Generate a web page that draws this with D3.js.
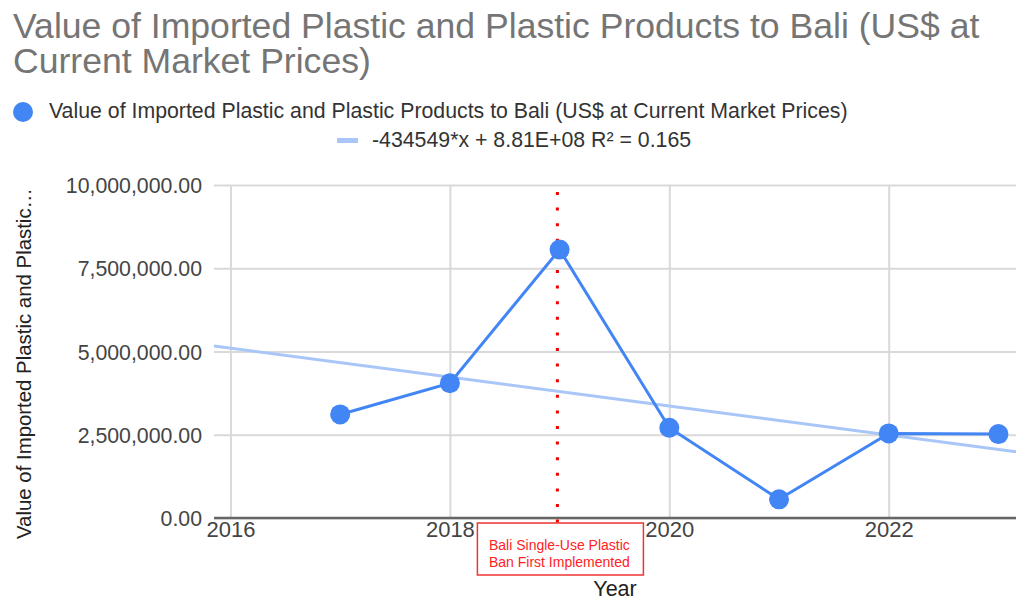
<!DOCTYPE html>
<html>
<head>
<meta charset="utf-8">
<script src="https://cdn.jsdelivr.net/npm/d3@7"></script>
<style>
  body { margin: 0; background: #fff; }
  svg { display: block; font-family: "Liberation Sans", Arial, sans-serif; }
</style>
</head>
<body>
<svg id="chart"></svg>
<script>
// data
var years = [2017, 2018, 2019, 2020, 2021, 2022, 2023]
var values = [3110000, 4050000, 8060000, 2710000, 560000, 2540000, 2520000]
var yTicks = [0, 2500000, 5000000, 7500000, 10000000]
var xTicks = [2016, 2018, 2020, 2022]
var trendSlope = -434549
var trendIntercept = 881150000
var banYear = 2018.98

var titleLines = ["Value of Imported Plastic and Plastic Products to Bali (US$ at", "Current Market Prices)"]
var seriesLabel = "Value of Imported Plastic and Plastic Products to Bali (US$ at Current Market Prices)"
var trendLabel = "-434549*x + 8.81E+08 R\u00b2 = 0.165"
var annotationLines = ["Bali Single-Use Plastic", "Ban First Implemented"]

var dims = {
    width: 1016,
    height: 602,
    margin: { top: 185, bottom: 84, left: 214, right: 0 }
}

var blue = "#4285f4"
var trendBlue = "#a9c6f8"

var svg = d3.select("#chart")
    .attr("width", dims.width)
    .attr("height", dims.height)

var xScale = d3.scaleLinear()
    .domain([2015.85, 2023.16])
    .range([dims.margin.left, dims.width - dims.margin.right])

var yScale = d3.scaleLinear()
    .domain([0, 10000000])
    .range([dims.height - dims.margin.bottom, dims.margin.top])

// title (one text, two lines)
var title = svg.append("text")
    .attr("font-size", 35.6)
    .attr("fill", "#757575")
title.selectAll("tspan")
    .data(titleLines)
    .enter()
    .append("tspan")
    .attr("x", 13)
    .attr("y", (d, i) => 37.5 + i * 35)
    .text(d => d)

// legend
var legend = svg.append("g")
legend.append("circle")
    .attr("cx", 23)
    .attr("cy", 112)
    .attr("r", 10)
    .attr("fill", blue)
legend.append("text")
    .attr("x", 49)
    .attr("y", 118)
    .attr("font-size", 21.3)
    .attr("fill", "#333")
    .text(seriesLabel)
legend.append("rect")
    .attr("x", 337)
    .attr("y", 138)
    .attr("width", 21)
    .attr("height", 5)
    .attr("fill", trendBlue)
legend.append("text")
    .attr("x", 372)
    .attr("y", 147)
    .attr("font-size", 21.3)
    .attr("fill", "#333")
    .text(trendLabel)

// gridlines
var yGrid = d3.axisLeft(yScale)
    .tickValues(yTicks)
    .tickSize(-(dims.width - dims.margin.left - dims.margin.right))
    .tickFormat("")
svg.append("g")
    .attr("transform", `translate(${dims.margin.left},0)`)
    .call(yGrid)
    .call(g => g.select(".domain").remove())
    .call(g => g.selectAll("line").attr("stroke", "#d9d9d9").attr("stroke-width", 2))

var xGrid = d3.axisBottom(xScale)
    .tickValues(xTicks)
    .tickSize(-(yScale(0) - yScale(10000000)))
    .tickFormat("")
svg.append("g")
    .attr("transform", `translate(0,${yScale(0)})`)
    .call(xGrid)
    .call(g => g.select(".domain").remove())
    .call(g => g.selectAll("line").attr("stroke", "#d9d9d9").attr("stroke-width", 2))

// y tick labels
var yAxis = d3.axisLeft(yScale)
    .tickValues(yTicks)
    .tickSize(0)
    .tickPadding(12)
    .tickFormat(d3.format(",.2f"))
svg.append("g")
    .attr("transform", `translate(${dims.margin.left},0)`)
    .call(yAxis)
    .call(g => g.select(".domain").remove())
    .call(g => g.selectAll("text")
        .attr("font-size", 21.3)
        .attr("font-family", "Liberation Sans, Arial, sans-serif")
        .attr("fill", "#444")
        .attr("dy", "0.36em"))

// x tick labels
var xAxis = d3.axisBottom(xScale)
    .tickValues(xTicks)
    .tickSize(0)
    .tickPadding(3)
    .tickFormat(d3.format("d"))
svg.append("g")
    .attr("transform", `translate(0,${yScale(0)})`)
    .call(xAxis)
    .call(g => g.select(".domain").remove())
    .call(g => g.selectAll("text")
        .attr("font-size", 22)
        .attr("font-family", "Liberation Sans, Arial, sans-serif")
        .attr("fill", "#444"))

// baseline
svg.append("line")
    .attr("x1", dims.margin.left)
    .attr("x2", dims.width - dims.margin.right)
    .attr("y1", yScale(0))
    .attr("y2", yScale(0))
    .attr("stroke", "#666")
    .attr("stroke-width", 2.5)

// axis titles
svg.append("text")
    .attr("transform", `translate(31,${(yScale(0) + yScale(10000000)) / 2 + 12}) rotate(-90)`)
    .attr("text-anchor", "middle")
    .attr("font-size", 20.4)
    .attr("fill", "#222")
    .text("Value of Imported Plastic and Plastic\u2026")

svg.append("text")
    .attr("x", 615)
    .attr("y", 596)
    .attr("text-anchor", "middle")
    .attr("font-size", 21.5)
    .attr("fill", "#222")
    .text("Year")

// trendline
var trendLine = d3.line()
    .x(d => xScale(d))
    .y(d => yScale(trendSlope * d + trendIntercept))
svg.append("path")
    .datum(xScale.domain())
    .attr("d", trendLine)
    .attr("fill", "none")
    .attr("stroke", trendBlue)
    .attr("stroke-width", 3)

// ban marker
svg.append("line")
    .attr("x1", xScale(banYear))
    .attr("x2", xScale(banYear))
    .attr("y1", 192)
    .attr("y2", 523)
    .attr("stroke", "#e00")
    .attr("stroke-width", 3)
    .attr("stroke-dasharray", "3,12.6")

// series line and points
var series = years.map((y, i) => [y, values[i]])
var valueLine = d3.line()
    .x(d => xScale(d[0]))
    .y(d => yScale(d[1]))
svg.append("path")
    .datum(series)
    .attr("d", valueLine)
    .attr("fill", "none")
    .attr("stroke", blue)
    .attr("stroke-width", 3)

svg.append("g")
    .selectAll("circle")
    .data(series)
    .enter()
    .append("circle")
    .attr("cx", d => xScale(d[0]))
    .attr("cy", d => yScale(d[1]))
    .attr("r", 10)
    .attr("fill", blue)

// annotation box
var boxX = xScale(banYear)
var note = svg.append("g")
note.append("rect")
    .attr("x", boxX - 80)
    .attr("y", 523)
    .attr("width", 166)
    .attr("height", 52)
    .attr("fill", "#fff")
    .attr("stroke", "#e33")
    .attr("stroke-width", 1.5)
note.selectAll("text")
    .data(annotationLines)
    .enter()
    .append("text")
    .attr("x", boxX + 2)
    .attr("y", (d, i) => 550 + i * 16.5)
    .attr("text-anchor", "middle")
    .attr("font-size", 14)
    .attr("fill", "#f22")
    .text(d => d)
</script>
</body>
</html>
